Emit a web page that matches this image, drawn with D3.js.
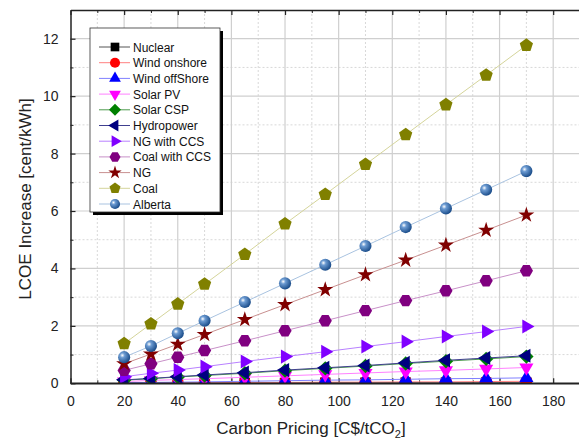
<!DOCTYPE html>
<html>
<head>
<meta charset="utf-8">
<script src="https://cdn.jsdelivr.net/npm/d3@7"></script>
<style>
  body { margin: 0; background: #fff; }
  text { font-family: "Liberation Sans", Arial, sans-serif; }
</style>
</head>
<body>
<div id="chart"></div>
<script>
// carbon price points (C$/tCO2)
var prices = [20, 30, 40, 50, 65, 80, 95, 110, 125, 140, 155, 170];

// LCOE increase (cent/kWh)
var nuclear      = [0.01, 0.01, 0.01, 0.01, 0.01, 0.01, 0.02, 0.02, 0.02, 0.02, 0.02, 0.02];
var windOnshore  = [0.01, 0.01, 0.02, 0.02, 0.03, 0.03, 0.04, 0.04, 0.05, 0.05, 0.06, 0.07];
var windOffshore = [0.02, 0.03, 0.04, 0.05, 0.07, 0.09, 0.11, 0.12, 0.14, 0.16, 0.17, 0.19];
var solarPV      = [0.06, 0.1, 0.13, 0.16, 0.21, 0.26, 0.31, 0.36, 0.41, 0.45, 0.5, 0.55];
var solarCSP     = [0.11, 0.16, 0.22, 0.27, 0.35, 0.44, 0.52, 0.6, 0.69, 0.77, 0.85, 0.93];
var hydropower   = [0.12, 0.17, 0.23, 0.29, 0.37, 0.46, 0.54, 0.62, 0.71, 0.8, 0.88, 0.96];
var ngCCS        = [0.23, 0.35, 0.46, 0.58, 0.76, 0.93, 1.1, 1.28, 1.45, 1.63, 1.8, 1.98];
var coalCCS      = [0.45, 0.68, 0.91, 1.14, 1.48, 1.83, 2.18, 2.53, 2.88, 3.22, 3.57, 3.92];
var ng           = [0.68, 1.02, 1.36, 1.7, 2.22, 2.74, 3.26, 3.78, 4.29, 4.81, 5.33, 5.86];
var coal         = [1.38, 2.07, 2.76, 3.45, 4.49, 5.55, 6.58, 7.62, 8.66, 9.7, 10.73, 11.77];
var alberta      = [0.91, 1.3, 1.74, 2.18, 2.83, 3.48, 4.13, 4.78, 5.44, 6.09, 6.74, 7.39];

var seriesNames = ['Nuclear', 'Wind onshore', 'Wind offShore', 'Solar PV', 'Solar CSP', 'Hydropower',
                   'NG with CCS', 'Coal with CCS', 'NG', 'Coal', 'Alberta'];
var seriesValues = [nuclear, windOnshore, windOffshore, solarPV, solarCSP, hydropower,
                    ngCCS, coalCCS, ng, coal, alberta];

var xTicks = [0, 20, 40, 60, 80, 100, 120, 140, 160, 180];
var yTicks = [0, 2, 4, 6, 8, 10, 12];

// marker style per series
var styles = [
  {color: '#000000', line: '#555555', shape: 'square'},
  {color: '#ff0000', line: '#ff8080', shape: 'circle'},
  {color: '#0000ff', line: '#8080ff', shape: 'up'},
  {color: '#ff00ff', line: '#ff80ff', shape: 'down'},
  {color: '#008000', line: '#4d9a4d', shape: 'diamond'},
  {color: '#000080', line: '#40408f', shape: 'left'},
  {color: '#8000ff', line: '#b880ff', shape: 'right'},
  {color: '#800080', line: '#c890c8', shape: 'hexagon'},
  {color: '#800000', line: '#c89090', shape: 'star'},
  {color: '#808000', line: '#d4d49a', shape: 'pentagon'},
  {color: '#2f67a8', line: '#a9c3e0', shape: 'ball'}
];

var W = 579, H = 443;
var margin = {top: 10, left: 70.5};
var plotW = 509.5, plotH = 373.3;

var svg = d3.select('#chart').append('svg')
    .attr('width', W)
    .attr('height', H);

var defs = svg.append('defs');
var grad = defs.append('radialGradient')
    .attr('id', 'ball')
    .attr('cx', '35%').attr('cy', '35%').attr('r', '65%');
grad.append('stop').attr('offset', '0%').attr('stop-color', '#ffffff');
grad.append('stop').attr('offset', '30%').attr('stop-color', '#6c9bd2');
grad.append('stop').attr('offset', '100%').attr('stop-color', '#1d4f8c');

var g = svg.append('g')
    .attr('transform', 'translate(' + margin.left + ',' + margin.top + ')');

var x = d3.scaleLinear().domain([0, 190]).range([0, plotW]);
var y = d3.scaleLinear().domain([0, 13]).range([plotH, 0]);

// grid lines: minor dotted, major solid
var xMinor = d3.range(10, 190, 20);
var yMinor = d3.range(1, 13, 2);

g.selectAll('.xminor').data(xMinor).enter().append('line')
    .attr('x1', d => x(d)).attr('x2', d => x(d))
    .attr('y1', 0).attr('y2', plotH)
    .attr('stroke', '#d8d8d8').attr('stroke-dasharray', '2,2');
g.selectAll('.yminor').data(yMinor).enter().append('line')
    .attr('y1', d => y(d)).attr('y2', d => y(d))
    .attr('x1', 0).attr('x2', plotW)
    .attr('stroke', '#d8d8d8').attr('stroke-dasharray', '2,2');
g.selectAll('.xmajor').data(xTicks.slice(1)).enter().append('line')
    .attr('x1', d => x(d)).attr('x2', d => x(d))
    .attr('y1', 0).attr('y2', plotH)
    .attr('stroke', '#cfcfcf').attr('stroke-width', 1.2);
g.selectAll('.ymajor').data(yTicks.slice(1)).enter().append('line')
    .attr('y1', d => y(d)).attr('y2', d => y(d))
    .attr('x1', 0).attr('x2', plotW)
    .attr('stroke', '#cfcfcf').attr('stroke-width', 1.2);

// axes with inward ticks
function styleAxis(sel) {
  sel.select('.domain').attr('stroke', '#222').attr('stroke-width', 1.5);
  sel.selectAll('.tick line').attr('stroke', '#222').attr('stroke-width', 1.2);
  sel.selectAll('text').style('font-size', '14px').attr('fill', '#222');
}

var xAxis = g.append('g')
    .attr('transform', 'translate(0,' + plotH + ')')
    .call(d3.axisBottom(x).tickValues(xTicks).tickSizeInner(-5).tickSizeOuter(0).tickPadding(13));
styleAxis(xAxis);
g.append('g')
    .attr('transform', 'translate(0,' + plotH + ')')
    .call(d3.axisBottom(x).tickValues(xMinor.concat([190])).tickSizeInner(-3).tickSizeOuter(0).tickFormat(''))
    .call(s => { s.select('.domain').remove(); s.selectAll('line').attr('stroke', '#222'); });

var xTop = g.append('g')
    .call(d3.axisTop(x).tickValues(xTicks).tickSizeInner(-5).tickSizeOuter(0).tickFormat(''));
styleAxis(xTop);
g.append('g')
    .call(d3.axisTop(x).tickValues(xMinor).tickSizeInner(-3).tickSizeOuter(0).tickFormat(''))
    .call(s => { s.select('.domain').remove(); s.selectAll('line').attr('stroke', '#222'); });

var yAxis = g.append('g')
    .call(d3.axisLeft(y).tickValues(yTicks).tickSizeInner(-5).tickSizeOuter(0).tickPadding(12));
styleAxis(yAxis);
g.append('g')
    .call(d3.axisLeft(y).tickValues(yMinor).tickSizeInner(-3).tickSizeOuter(0).tickFormat(''))
    .call(s => { s.select('.domain').remove(); s.selectAll('line').attr('stroke', '#222'); });

// axis titles
svg.append('text')
    .attr('x', 311).attr('y', 434)
    .attr('text-anchor', 'middle')
    .style('font-size', '17px')
    .attr('fill', '#222')
    .html('Carbon Pricing [C$/tCO<tspan dy="4" style="font-size:11px">2</tspan><tspan dy="-4">]</tspan>');

svg.append('text')
    .attr('transform', 'translate(31,199) rotate(-90)')
    .attr('text-anchor', 'middle')
    .style('font-size', '17px')
    .attr('fill', '#222')
    .text('LCOE Increase [cent/kWh]');

// marker shapes
function polygon(n, r, rot) {
  var pts = d3.range(n).map(function(i) {
    var a = rot + i * 2 * Math.PI / n;
    return [r * Math.cos(a), r * Math.sin(a)];
  });
  return 'M' + pts.join('L') + 'Z';
}

function markerPath(shape, s) {
  switch (shape) {
    case 'square':  return d3.symbol(d3.symbolSquare, s * s * 0.75)();
    case 'circle':  return d3.symbol(d3.symbolCircle, s * s * 0.8)();
    case 'up':      return polygon(3, s * 0.68, -Math.PI / 2);
    case 'down':    return polygon(3, s * 0.68, Math.PI / 2);
    case 'left':    return polygon(3, s * 0.68, Math.PI);
    case 'right':   return polygon(3, s * 0.68, 0);
    case 'diamond': return polygon(4, s * 0.6, 0);
    case 'hexagon': return polygon(6, s * 0.55, 0);
    case 'pentagon':return polygon(5, s * 0.58, -Math.PI / 2);
    case 'star':    return d3.symbol(d3.symbolStar, s * s * 0.55)();
    case 'ball':    return d3.symbol(d3.symbolCircle, s * s * 0.8)();
  }
}

function markerFill(st) {
  return st.shape === 'ball' ? 'url(#ball)' : st.color;
}

var line = d3.line()
    .x(function(d) { return x(d.p); })
    .y(function(d) { return y(d.v); });

var clip = defs.append('clipPath').attr('id', 'plotclip');
clip.append('rect').attr('x', 0).attr('y', 0).attr('width', plotW).attr('height', plotH);

var plot = g.append('g').attr('clip-path', 'url(#plotclip)');

seriesValues.forEach(function(vals, i) {
  var st = styles[i];
  var pts = prices.map(function(p, j) { return {p: p, v: vals[j]}; });
  var sg = plot.append('g');
  sg.append('path')
      .datum(pts)
      .attr('fill', 'none')
      .attr('stroke', st.line)
      .attr('stroke-width', 1)
      .attr('d', line);
  sg.selectAll('path.m').data(pts).enter().append('path')
      .attr('class', 'm')
      .attr('transform', function(d) { return 'translate(' + x(d.p) + ',' + y(d.v) + ')'; })
      .attr('d', markerPath(st.shape, 12))
      .attr('fill', markerFill(st));
});

// redraw axis lines on top of the markers
g.append('line').attr('x1', 0).attr('x2', plotW).attr('y1', plotH).attr('y2', plotH)
    .attr('stroke', '#222').attr('stroke-width', 1.5);

// legend
var lx = 90, ly = 28, lw = 130, lh = 184;
svg.append('rect')
    .attr('x', lx + 3).attr('y', ly + 3).attr('width', lw).attr('height', lh)
    .attr('fill', '#000');
svg.append('rect')
    .attr('x', lx).attr('y', ly).attr('width', lw).attr('height', lh)
    .attr('fill', '#fff').attr('stroke', '#333').attr('stroke-width', 0.8);

var leg = svg.append('g');
seriesNames.forEach(function(name, i) {
  var st = styles[i];
  var yy = 47 + i * 15.7;
  leg.append('line')
      .attr('x1', 99).attr('x2', 130).attr('y1', yy).attr('y2', yy)
      .attr('stroke', st.line).attr('stroke-width', 1);
  leg.append('path')
      .attr('transform', 'translate(115,' + yy + ')')
      .attr('d', markerPath(st.shape, 10))
      .attr('fill', markerFill(st));
  leg.append('text')
      .attr('x', 133).attr('y', yy + 4.5)
      .style('font-size', '12px')
      .attr('fill', '#111')
      .text(name);
});
</script>
</body>
</html>
